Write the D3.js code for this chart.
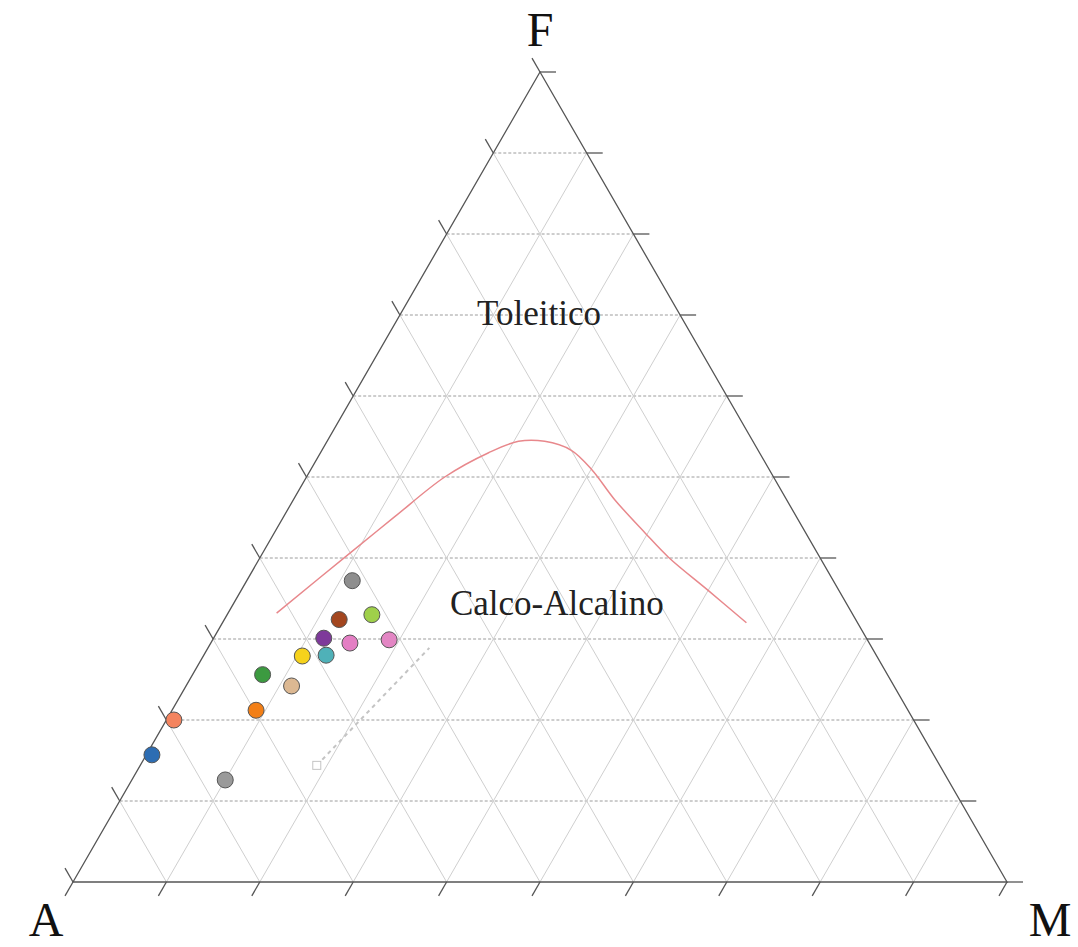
<!DOCTYPE html>
<html>
<head>
<meta charset="utf-8">
<script src="https://cdn.jsdelivr.net/npm/d3@7"></script>
<style>
  body { margin: 0; background: #fff; }
  svg { display: block; }
</style>
</head>
<body>
<div id="afm"></div>
<script>
// AFM ternary diagram (A = álcalis, F = FeO total, M = MgO), values in %

var ticks = [0, 10, 20, 30, 40, 50, 60, 70, 80, 90, 100];

// samples : F and M percentages (A = 100 - F - M)
var sampleF = [37.2, 33.0, 32.4, 30.1, 29.5, 29.9, 28.0, 27.9, 25.6, 24.2, 21.2, 20.0, 15.7, 12.6];
var sampleM = [11.3, 15.5, 12.3, 11.8, 14.9, 18.9, 13.1, 10.6, 7.5, 11.3, 9.0, 0.8, 0.6, 10.0];
var sampleColor = ["#8e8e8e", "#9fd04a", "#a3461f", "#7e3a9a", "#e47fc4", "#e386c4", "#4fb1b8",
                   "#f6d21c", "#3c9a40", "#dcb892", "#f27f17", "#f4845f", "#2d6db3", "#9a9a9a"];

// Irvine & Baragar boundary toleitico / calco-alcalino
var curveF = [33.2, 40.7, 45.1, 50.0, 53.0, 54.4, 54.4, 53.3, 50.9, 47.2, 43.1, 40.1, 36.0, 32.0];
var curveM = [5.2, 9.4, 11.9, 14.8, 18.0, 20.5, 23.3, 26.7, 30.1, 34.4, 39.7, 43.7, 50.0, 56.1];

// dashed trend line
var trendF = [14.4, 28.9];
var trendM = [18.9, 23.7];

var fieldNames = ["Toleitico", "Calco-Alcalino"];
var fieldF = [68.8, 33.0];
var fieldM = [15.5, 35.3];

var width = 1078, height = 947;

var svg = d3.select("#afm").append("svg")
    .attr("width", width)
    .attr("height", height);

// x runs along the base (M + F/2), y goes up with F
var xs = d3.scaleLinear().domain([0, 100]).range([73, 1007]);
var ys = d3.scaleLinear().domain([0, 100]).range([882, 72]);

function px(f, m) { return xs(m + f / 2); }
function py(f) { return ys(f); }

var grid = svg.append("g");

// horizontal lines, constant F
ticks.slice(1, 10).forEach(function(f){
    grid.append("line")
        .attr("x1", px(f, 0)).attr("y1", py(f))
        .attr("x2", px(f, 100 - f)).attr("y2", py(f))
        .style("stroke", "#9c9c9c")
        .style("stroke-width", 1)
        .style("stroke-dasharray", "3,2");
});
// constant M (parallel to A-F edge)
ticks.slice(1, 10).forEach(function(m){
    grid.append("line")
        .attr("x1", px(0, m)).attr("y1", py(0))
        .attr("x2", px(100 - m, m)).attr("y2", py(100 - m))
        .style("stroke", "#cfcfcf")
        .style("stroke-width", 1);
});
// constant A (parallel to F-M edge)
ticks.slice(1, 10).forEach(function(a){
    grid.append("line")
        .attr("x1", px(0, 100 - a)).attr("y1", py(0))
        .attr("x2", px(100 - a, 0)).attr("y2", py(100 - a))
        .style("stroke", "#cfcfcf")
        .style("stroke-width", 1);
});

// triangle frame
svg.append("path")
    .attr("d", "M" + px(0, 0) + "," + py(0) + "L" + px(100, 0) + "," + py(100) +
               "L" + px(0, 100) + "," + py(0) + "Z")
    .style("fill", "none")
    .style("stroke", "#555")
    .style("stroke-width", 1.3);

// ticks
var tl = 16;
var axis = svg.append("g").style("stroke", "#555").style("stroke-width", 1.3);
ticks.forEach(function(v){
    // left edge
    axis.append("line")
        .attr("x1", px(v, 0)).attr("y1", py(v))
        .attr("x2", px(v, 0) - tl * 0.5).attr("y2", py(v) - tl * 0.866);
    // right edge
    axis.append("line")
        .attr("x1", px(v, 100 - v)).attr("y1", py(v))
        .attr("x2", px(v, 100 - v) + tl).attr("y2", py(v));
    // base
    axis.append("line")
        .attr("x1", px(0, v)).attr("y1", py(0))
        .attr("x2", px(0, v) - tl * 0.5).attr("y2", py(0) + tl * 0.866);
});

// boundary curve
var curvePts = curveF.map(function(f, i){ return [px(f, curveM[i]), py(f)]; });
svg.append("path")
    .attr("d", d3.line().curve(d3.curveCatmullRom)(curvePts))
    .style("fill", "none")
    .style("stroke", "#e8888c")
    .style("stroke-width", 1.5);

// trend line
var trendPts = trendF.map(function(f, i){ return [px(f, trendM[i]), py(f)]; });
svg.append("path")
    .attr("d", d3.line()(trendPts))
    .style("fill", "none")
    .style("stroke", "#c4c4c4")
    .style("stroke-width", 2)
    .style("stroke-dasharray", "4,4");
svg.append("rect")
    .attr("x", trendPts[0][0] - 4).attr("y", trendPts[0][1] - 4)
    .attr("width", 8).attr("height", 8)
    .style("fill", "#fff")
    .style("stroke", "#c4c4c4");

// samples
svg.selectAll("circle.sample")
    .data(sampleF)
    .enter().append("circle")
    .attr("class", "sample")
    .attr("cx", function(f, i){ return px(f, sampleM[i]); })
    .attr("cy", function(f){ return py(f); })
    .attr("r", 8)
    .style("fill", function(f, i){ return sampleColor[i]; })
    .style("stroke", "#555")
    .style("stroke-width", 1);

// field names
svg.selectAll("text.field")
    .data(fieldNames)
    .enter().append("text")
    .attr("class", "field")
    .attr("x", function(d, i){ return px(fieldF[i], fieldM[i]); })
    .attr("y", function(d, i){ return py(fieldF[i]); })
    .attr("text-anchor", "middle")
    .style("font-family", "'Liberation Serif', 'DejaVu Serif', serif")
    .style("font-size", "35px")
    .style("fill", "#222")
    .text(function(d){ return d; });

// vertex labels
var vertexLabels = [
    { t: "F", x: px(100, 0), y: 46 },
    { t: "A", x: 46, y: 936 },
    { t: "M", x: 1050, y: 936 }
];
svg.selectAll("text.vertex")
    .data(vertexLabels)
    .enter().append("text")
    .attr("class", "vertex")
    .attr("x", function(d){ return d.x; })
    .attr("y", function(d){ return d.y; })
    .attr("text-anchor", "middle")
    .style("font-family", "'Liberation Serif', 'DejaVu Serif', serif")
    .style("font-size", "48px")
    .style("fill", "#111")
    .text(function(d){ return d.t; });
</script>
</body>
</html>
